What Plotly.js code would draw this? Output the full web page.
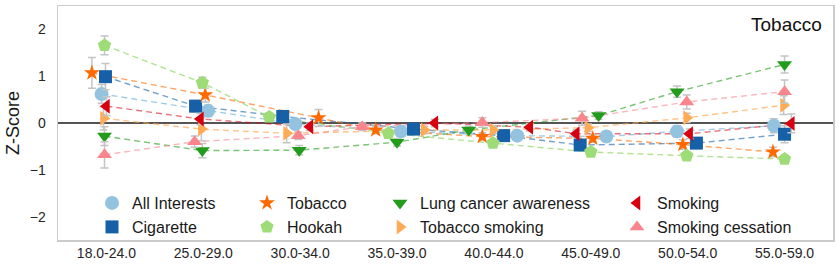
<!DOCTYPE html>
<html>
<head>
<meta charset="utf-8">
<script src="https://cdn.plot.ly/plotly-3.0.1.min.js"></script>
<style>
html,body{margin:0;padding:0;background:#fff;}
#chart{width:839px;height:267px;}
</style>
</head>
<body>
<div id="chart"></div>
<script>
// ---- data ----
var ageGroups = ["18.0-24.0","25.0-29.0","30.0-34.0","35.0-39.0","40.0-44.0","45.0-49.0","50.0-54.0","55.0-59.0"];
var seriesNames = ["All Interests","Cigarette","Tobacco","Hookah","Lung cancer awareness","Tobacco smoking","Smoking","Smoking cessation"];

var allInterests      = [0.62, 0.26, -0.02, -0.18, -0.27, -0.29, -0.18, -0.06];
var cigarette         = [0.99, 0.36, 0.14, -0.13, -0.27, -0.47, -0.43, -0.24];
var tobacco           = [1.07, 0.60, 0.11, -0.15, -0.29, -0.33, -0.46, -0.62];
var hookah            = [1.66, 0.86, 0.13, -0.22, -0.43, -0.62, -0.70, -0.77];
var lungCancer        = [-0.28, -0.59, -0.58, -0.41, -0.15, 0.16, 0.67, 1.25];
var tobaccoSmoking    = [0.10, -0.13, -0.22, -0.15, -0.15, -0.10, 0.11, 0.38];
var smoking           = [0.36, 0.085, -0.08, 0.0, -0.09, -0.23, -0.23, -0.01];
var smokingCessation  = [-0.68, -0.40, -0.27, -0.08, 0.01, 0.10, 0.45, 0.67];

// error bar half-widths (confidence intervals)
var allInterestsErr     = [0.20, 0.12, 0.08, 0.08, 0.08, 0.08, 0.12, 0.15];
var cigaretteErr        = [0.28, 0.12, 0.08, 0.08, 0.08, 0.08, 0.10, 0.18];
var tobaccoErr          = [0.33, 0.15, 0.18, 0.08, 0.08, 0.08, 0.10, 0.10];
var hookahErr           = [0.20, 0.12, 0.08, 0.08, 0.08, 0.08, 0.08, 0.08];
var lungCancerErr       = [0.20, 0.15, 0.10, 0.08, 0.08, 0.08, 0.12, 0.18];
var tobaccoSmokingErr   = [0.25, 0.25, 0.20, 0.08, 0.08, 0.08, 0.10, 0.20];
var smokingErr          = [0.20, 0.12, 0.08, 0.08, 0.08, 0.08, 0.10, 0.20];
var smokingCessationErr = [0.28, 0.12, 0.08, 0.08, 0.10, 0.15, 0.15, 0.25];

// horizontal jitter of each point within its age group (category units)
var allInterestsJit     = [-0.05, 0.05, -0.05, 0.04, 0.24, 0.16, -0.11, -0.11];
var cigaretteJit        = [-0.01, -0.08, -0.18, 0.17, 0.10, -0.11, 0.09, 0.00];
var tobaccoJit          = [-0.15, 0.02, 0.19, -0.22, -0.12, 0.02, -0.05, -0.12];
var hookahJit           = [-0.02, -0.01, -0.32, -0.09, -0.01, 0.00, -0.01, 0.00];
var lungCancerJit       = [-0.02, -0.01, -0.01, 0.00, -0.26, 0.08, -0.11, 0.00];
var tobaccoSmokingJit   = [-0.03, -0.02, -0.14, 0.28, -0.01, -0.03, -0.01, -0.01];
var smokingJit          = [0.00, -0.03, 0.10, 0.39, 0.37, -0.15, 0.02, 0.07];
var smokingCessationJit = [-0.02, -0.09, -0.02, -0.36, -0.12, -0.09, -0.01, 0.00];

var panelTitle = "Tobacco";
var yTicks = [-2, -1, 0, 1, 2];

// ---- styling ----
var values = [allInterests, cigarette, tobacco, hookah, lungCancer, tobaccoSmoking, smoking, smokingCessation];
var errs = [allInterestsErr, cigaretteErr, tobaccoErr, hookahErr, lungCancerErr, tobaccoSmokingErr, smokingErr, smokingCessationErr];
var jits = [allInterestsJit, cigaretteJit, tobaccoJit, hookahJit, lungCancerJit, tobaccoSmokingJit, smokingJit, smokingCessationJit];
var colors = ["#94c3e0", "#1660a8", "#ff6a00", "#9edc78", "#239b1d", "#ffaa55", "#d7000f", "#f8868c"];
var lineColors = ["rgba(148,195,224,0.85)", "rgba(22,96,168,0.6)", "rgba(255,106,0,0.6)", "rgba(158,220,120,0.8)",
                  "rgba(35,155,29,0.6)", "rgba(255,170,85,0.7)", "rgba(215,0,15,0.55)", "rgba(248,134,140,0.6)"];
var symbols = ["circle", "square", "star", "pentagon", "triangle-down", "triangle-right", "triangle-left", "triangle-up"];
var sizes = [14, 13, 12, 14, 13, 13, 13, 13];

// legend layout: 4 columns x 2 rows (column-major order like the reference)
var legCol = [0, 0, 1, 1, 2, 2, 3, 3];
var legRow = [0, 1, 0, 1, 0, 1, 0, 1];
var colTextPx = [132, 287, 420, 657];
var rowPx = [203, 227];
var plotL = 58, plotR = 833, plotT = 6, plotB = 240;

var traces = [];
var i;
for (i = 0; i < values.length; i++) {
  var xs = ageGroups.map(function (g, k) { return k + jits[i][k]; });
  traces.push({
    type: "scatter", mode: "lines", x: xs, y: values[i],
    line: {color: lineColors[i], width: 1.4, dash: "6px,4px"},
    showlegend: false, hoverinfo: "skip"
  });
}
var layoutLegends = {};
for (i = 0; i < values.length; i++) {
  var xs2 = ageGroups.map(function (g, k) { return k + jits[i][k]; });
  var legId = i === 0 ? "legend" : "legend" + (i + 1);
  traces.push({
    type: "scatter", mode: "markers", x: xs2, y: values[i], name: seriesNames[i],
    legend: legId,
    marker: {symbol: symbols[i], size: sizes[i], color: colors[i], line: {width: 0}},
    error_y: {type: "data", array: errs[i], visible: true, color: "#c4c4c4", thickness: 1.5, width: 4}
  });
  var lx = (colTextPx[legCol[i]] - 40 - plotL) / (plotR - plotL);
  var ly = (plotB - rowPx[legRow[i]]) / (plotB - plotT);
  layoutLegends[legId] = {
    x: lx, y: ly, xanchor: "left", yanchor: "middle", orientation: "v",
    bgcolor: "rgba(0,0,0,0)", borderwidth: 0,
    font: {family: "Liberation Sans, Arial, sans-serif", size: 16, color: "#1a1a1a"}
  };
}

var layout = {
  width: 839, height: 267,
  margin: {l: plotL, r: 839 - plotR, t: plotT, b: 267 - plotB, pad: 0},
  paper_bgcolor: "#ffffff", plot_bgcolor: "#ffffff",
  font: {family: "Liberation Sans, Arial, sans-serif", color: "#262626"},
  showlegend: true,
  xaxis: {
    range: [-0.5, 7.5], tickmode: "array",
    tickvals: ageGroups.map(function (g, k) { return k; }), ticktext: ageGroups,
    showgrid: false, zeroline: false, ticks: "",
    showline: true, mirror: true, linecolor: "#cccccc", linewidth: 1.5,
    tickfont: {size: 14, color: "#262626"}
  },
  yaxis: {
    range: [-2.5, 2.5], tickmode: "array", tickvals: yTicks,
    showgrid: false, ticks: "",
    zeroline: true, zerolinecolor: "#555555", zerolinewidth: 1.3,
    showline: true, mirror: true, linecolor: "#cccccc", linewidth: 1.5,
    tickfont: {size: 14, color: "#262626"}, ticklabelstandoff: 8,
    title: {text: "Z-Score", font: {size: 18, color: "#1a1a1a"}, standoff: 5}
  },
  annotations: [{
    text: panelTitle, xref: "paper", yref: "paper", x: 0.988, y: 0.92,
    xanchor: "right", yanchor: "middle", showarrow: false,
    font: {size: 19, color: "#111111"}
  }]
};
Object.keys(layoutLegends).forEach(function (k) { layout[k] = layoutLegends[k]; });

Plotly.newPlot("chart", traces, layout, {displayModeBar: false, staticPlot: true});
</script>
</body>
</html>
